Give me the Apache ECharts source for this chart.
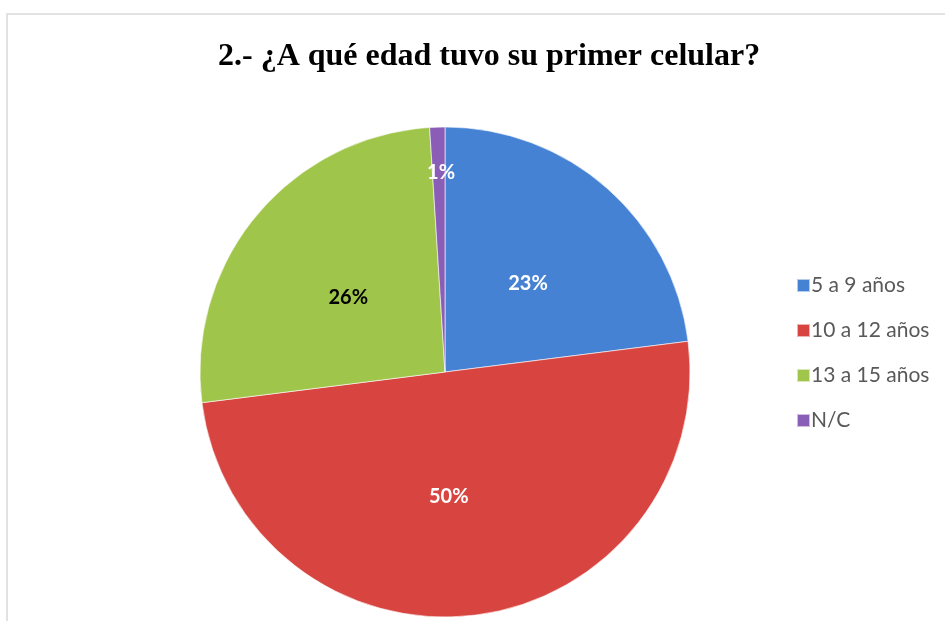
<!DOCTYPE html>
<html>
<head>
<meta charset="UTF-8">
<title>Edad primer celular</title>
<script type="text/javascript" src="https://cdn.jsdelivr.net/npm/echarts@6/dist/echarts.min.js"></script>
<style>
html,body{margin:0;padding:0;background:#fff;}
</style>
</head>
<body>

<div id="box" style="width:945px;height:621px;"></div>

<script type="text/javascript">

// datos del grafico
var categorias=['5 a 9 años','10 a 12 años','13 a 15 años','N/C'];
var valores=[23,50,26,1];
var colores=['#4682D3','#D8443F','#A0C54B','#8A5EB6'];
var colorEtiqueta=['#fff','#fff','#000','#fff'];

var mychart=echarts.init(document.getElementById('box'));

var datos=categorias.map(function(c,i){
  return {
    name:c,
    value:valores[i],
    itemStyle:{color:colores[i]},
    label:{color:colorEtiqueta[i]}
  };
});

var option={
  //marco
  graphic:[{
    type:'rect',
    shape:{x:7,y:14,width:960,height:640},
    style:{fill:'none',stroke:'#d9d9d9',lineWidth:1.5},
    silent:true
  }],
  //titulo
  title:{
    text:'2.- ¿A qué edad tuvo su primer celular?',
    left:213,
    top:36,
    textStyle:{
      fontFamily:'Liberation Serif',
      fontWeight:'bold',
      fontSize:32,
      color:'#000'
    }
  },
  legend:{
    orient:'vertical',
    left:791,
    top:270,
    itemWidth:13,
    itemHeight:13,
    itemGap:24,
    icon:'rect',
    textStyle:{fontFamily:'Lato',fontSize:21,color:'#595959',padding:[0,0,0,-4]},
    data:categorias
  },
  series:[{
    type:'pie',
    center:[445,372],
    radius:[0,245],
    startAngle:90,
    clockwise:true,
    animation:false,
    itemStyle:{borderColor:'rgba(255,255,255,0.6)',borderWidth:1},
    label:{
      position:'inside',
      formatter:'{c}%',
      fontFamily:'Lato',
      fontWeight:'bold',
      fontSize:20
    },
    labelLayout:function(p){
      if(p.dataIndex===3){return {dy:-74};}
      if(p.dataIndex===1){return {dx:-12};}
      return {dy:6};
    },
    data:datos
  }]
};

mychart.setOption(option);
</script>
</body>
</html>
